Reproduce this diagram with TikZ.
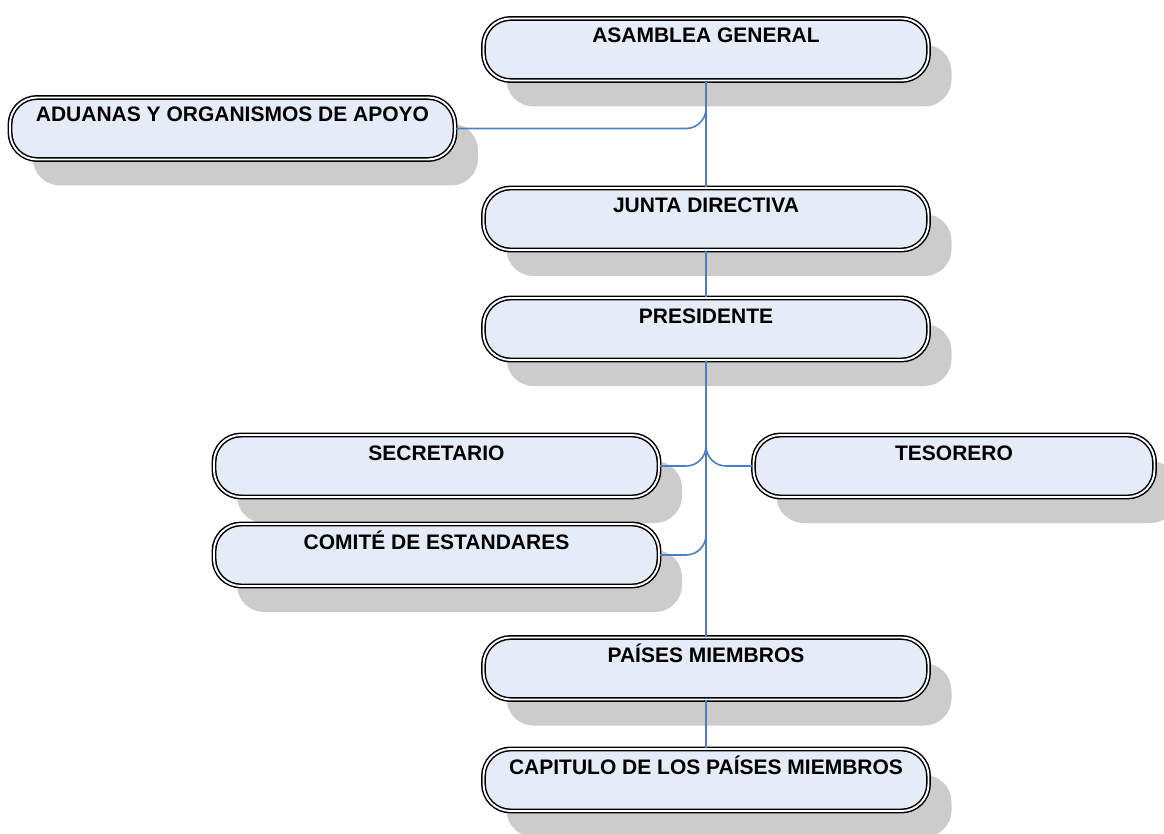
\documentclass[tikz,border=0pt]{standalone}
\usepackage{fontspec}
\setmainfont{Liberation Sans}
\usetikzlibrary{shadows}
\definecolor{boxfill}{HTML}{E6ECF7}
\definecolor{shadowgray}{HTML}{CCCCCC}
\definecolor{linkblue}{HTML}{4A7EC6}
\begin{document}
\begin{tikzpicture}[x=1pt,y=-1pt,
  orgbox/.style={draw=black, line width=1.5pt, double=white, double distance=1.9pt,
    fill=boxfill, rounded corners=27pt, minimum height=62pt, inner sep=0pt,
    general shadow={fill=shadowgray, shadow xshift=23pt, shadow yshift=-26pt}},
  boxtext/.style={anchor=base, inner sep=0pt, font=\bfseries\fontsize{21}{25}\selectfont},
  link/.style={draw=linkblue, line width=1.6pt, rounded corners=20pt}]
\useasboundingbox (0,0) rectangle (1164,834);
% boxes
\node[orgbox, minimum width=445pt] (asamblea) at (706,49.5) {};
\node[orgbox, minimum width=445pt] (aduanas) at (232.5,128.5) {};
\node[orgbox, minimum width=445pt] (junta) at (706,219) {};
\node[orgbox, minimum width=445pt] (presidente) at (706,329) {};
\node[orgbox, minimum width=445pt] (secretario) at (436.5,466) {};
\node[orgbox, minimum width=401pt] (tesorero) at (954,466) {};
\node[orgbox, minimum width=445pt] (comite) at (436.5,555) {};
\node[orgbox, minimum width=445pt] (paises) at (706,668.5) {};
\node[orgbox, minimum width=445pt] (capitulo) at (706,780) {};
% texts
\node[boxtext] (tasamblea) at (706,43) {ASAMBLEA GENERAL};
\node[boxtext] (taduanas) at (232.5,122) {ADUANAS Y ORGANISMOS DE APOYO};
\node[boxtext] (tjunta) at (706,213) {JUNTA DIRECTIVA};
\node[boxtext] (tpresidente) at (706,323) {PRESIDENTE};
\node[boxtext] (tsecretario) at (436.5,460) {SECRETARIO};
\node[boxtext] (ttesorero) at (954,460) {TESORERO};
\node[boxtext] (tcomite) at (436.5,549) {COMITÉ DE ESTANDARES};
\node[boxtext] (tpaises) at (706,662) {PAÍSES MIEMBROS};
\node[boxtext] (tcapitulo) at (706,774) {CAPITULO DE LOS PAÍSES MIEMBROS};
% connectors
\draw[link] (asamblea.south) -- (junta.north);
\draw[link] (aduanas.east) -| (asamblea.south);
\draw[link] (junta.south) -- (presidente.north);
\draw[link] (presidente.south) -- (paises.north);
\draw[link] (secretario.east) -| (presidente.south);
\draw[link] (tesorero.west) -| (presidente.south);
\draw[link] (comite.east) -| (presidente.south);
\draw[link] (paises.south) -- (capitulo.north);
\end{tikzpicture}
\end{document}
